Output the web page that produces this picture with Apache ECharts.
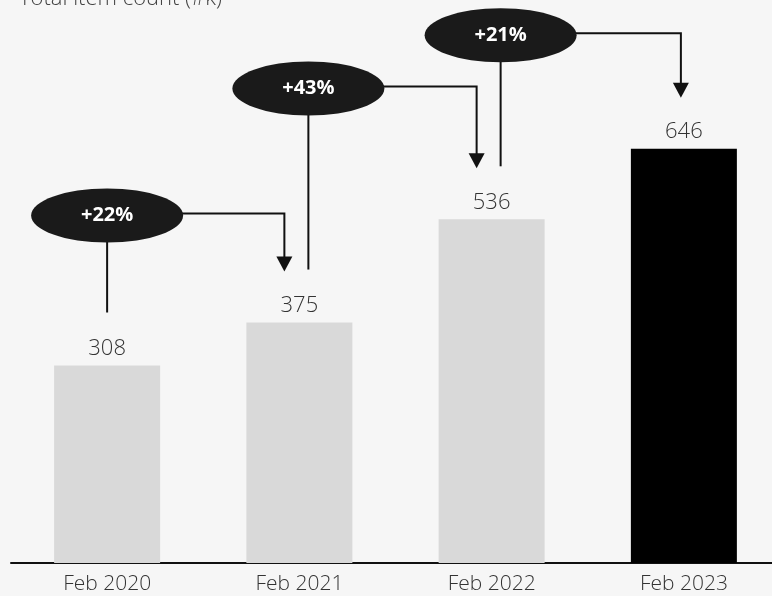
<!DOCTYPE html>
<html>
<head>
<meta charset="utf-8">
<script src="https://cdn.jsdelivr.net/npm/echarts@6/dist/echarts.min.js"></script>
<style>
  html, body { margin: 0; padding: 0; background: #f6f6f6; }
  #main { width: 772px; height: 596px; }
</style>
</head>
<body>
<div id="main"></div>
<script>
// data
var categories = ['Feb 2020', 'Feb 2021', 'Feb 2022', 'Feb 2023'];
var itemCount = [308, 375, 536, 646];
var growthLabels = ['+22%', '+43%', '+21%'];

var chart = echarts.init(document.getElementById('main'));
var FONT = '"Open Sans", Lato, sans-serif';

// height of each callout bubble, in axis units
var calloutLevel = [542, 740, 823];

var calloutData = growthLabels.map(function (t, i) {
  return [i, itemCount[i], itemCount[i + 1], calloutLevel[i]];
});

function renderCallout(params, api) {
  var i = api.value(0);
  var from = api.coord([i, api.value(1)]);
  var to = api.coord([i + 1, api.value(2)]);
  var bubble = api.coord([i, api.value(3)]);
  var lineX = from[0] + (i > 0 ? 9 : 0);
  var arrowX = to[0] + (i + 1 < categories.length - 1 ? -15 : -3);
  var cx = lineX, cy = bubble[1];
  var rx = 76, ry = 27;
  var tip = to[1] - 51;
  var lineStyle = { stroke: '#111', lineWidth: 2, fill: null };
  return {
    type: 'group',
    children: [
      { type: 'line', shape: { x1: cx, y1: cy, x2: cx, y2: from[1] - 53 }, style: lineStyle },
      { type: 'polyline', shape: { points: [[cx + rx - 4, cy - 2], [arrowX, cy - 2], [arrowX, tip - 12]] }, style: lineStyle },
      { type: 'polygon', shape: { points: [[arrowX - 8, tip - 15], [arrowX + 8, tip - 15], [arrowX, tip]] }, style: { fill: '#111' } },
      { type: 'ellipse', shape: { cx: cx, cy: cy, rx: rx, ry: ry }, style: { fill: '#1a1a1a' } },
      { type: 'text', style: { text: growthLabels[i], x: cx, y: cy, align: 'center', verticalAlign: 'middle', fill: '#fff', font: 'bold 20px ' + FONT } }
    ]
  };
}

var option = {
  backgroundColor: '#f6f6f6',
  animation: false,
  title: {
    text: 'Total item count (#k)',
    left: 14,
    top: -17,
    textStyle: { fontFamily: FONT, fontSize: 22, fontWeight: 300, color: '#444' }
  },
  grid: { left: 11, width: 769, top: 0, bottom: 33, outerBoundsMode: 'none' },
  xAxis: {
    type: 'category',
    data: categories,
    axisLine: { lineStyle: { color: '#111', width: 2 } },
    axisTick: { show: false },
    axisLabel: { color: '#333', fontFamily: FONT, fontSize: 21, fontWeight: 300, margin: 11 }
  },
  yAxis: {
    type: 'value',
    min: 0,
    max: 878,
    show: false
  },
  series: [
    {
      type: 'bar',
      data: itemCount.map(function (v, i) {
        return { value: v, itemStyle: { color: i === itemCount.length - 1 ? '#000' : '#d9d9d9' } };
      }),
      barWidth: 106,
      label: { show: true, position: 'top', distance: 6, color: '#333', fontFamily: FONT, fontSize: 22, fontWeight: 300 }
    },
    {
      type: 'custom',
      data: calloutData,
      renderItem: renderCallout,
      clip: false,
      z: 5
    }
  ]
};
chart.setOption(option);
window.onresize = chart.resize;
</script>
</body>
</html>
